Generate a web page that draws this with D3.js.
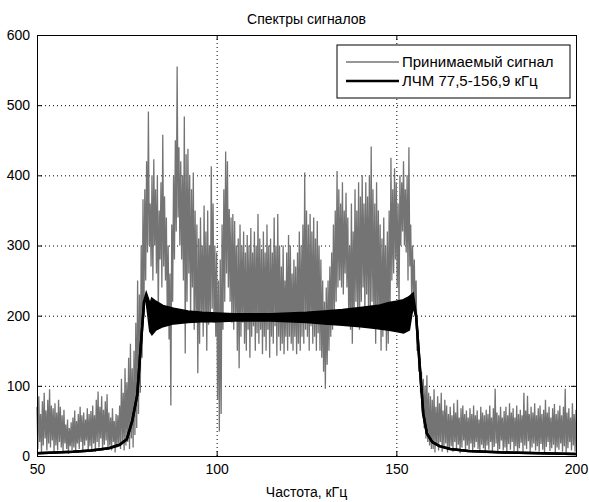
<!DOCTYPE html>
<html>
<head>
<meta charset="utf-8">
<script src="https://cdn.jsdelivr.net/npm/d3@7"></script>
<style>
  body { margin: 0; background: #fff; }
  svg { display: block; }
  text { font-family: "Liberation Sans", Arial, sans-serif; fill: #000; }
</style>
</head>
<body>
<div id="chart"></div>
<script>
// axis ticks and labels
const xTicks = [50, 100, 150, 200];
const yTicks = [0, 100, 200, 300, 400, 500, 600];
const titleText = "Спектры сигналов";
const xLabelText = "Частота, кГц";
const seriesNames = ["Принимаемый сигнал", "ЛЧМ 77,5-156,9 кГц"];

// received signal: per 0.5 kHz bin (50 ... 200 kHz), peak and trough
const grayHi = [
  70, 85, 60, 78, 90, 65, 80, 95, 72, 68,          // 50
  75, 62, 80, 70, 58, 66, 45, 52, 40, 48,          // 55
  55, 65, 50, 60, 70, 58, 62, 52, 68, 60,          // 60
  64, 72, 58, 80, 92, 70, 85, 66, 78, 88,          // 65
  62, 55, 68, 50, 60, 58, 72, 110, 90, 125,        // 70
  105, 140, 160, 125, 150, 190, 250, 230, 300, 366, // 75
  380, 420, 491, 360, 400, 423, 380, 400, 350, 390, // 80
  458, 370, 340, 300, 260, 330, 400, 450, 555, 440, // 85
  420, 400, 484, 430, 438, 400, 380, 404, 350, 330, // 90
  310, 340, 300, 357, 320, 350, 300, 413, 360, 300, // 95
  290, 250, 280, 330, 380, 434, 420, 352, 340, 345, // 100
  335, 300, 310, 330, 300, 320, 290, 315, 300, 325, // 105
  290, 320, 300, 345, 310, 295, 320, 290, 330, 300, // 110
  310, 290, 340, 300, 345, 300, 270, 300, 250, 290, // 115
  315, 300, 260, 280, 270, 290, 320, 300, 330, 404, // 120
  350, 330, 345, 320, 340, 310, 335, 300, 280, 250, // 125
  220, 240, 250, 270, 290, 330, 350, 406, 380, 360, // 130
  390, 350, 375, 340, 300, 360, 320, 380, 350, 390, // 135
  370, 400, 360, 390, 370, 400, 441, 380, 360, 390, // 140
  350, 330, 310, 340, 300, 320, 350, 425, 380, 410, // 145
  390, 360, 400, 390, 420, 380, 400, 440, 330, 300, // 150
  280, 250, 180, 140, 120, 110, 100, 115, 90, 85,   // 155
  80, 95, 70, 85, 75, 90, 65, 80, 72, 60,           // 160
  70, 58, 75, 62, 80, 55, 68, 72, 60, 65,           // 165
  55, 68, 60, 72, 58, 65, 52, 70, 62, 58,           // 170
  66, 60, 72, 55, 68, 96, 62, 58, 70, 55,           // 175
  64, 70, 58, 75, 62, 68, 55, 72, 60, 66,           // 180
  58, 90, 65, 86, 60, 70, 62, 75, 58, 68,           // 185
  72, 60, 66, 80, 62, 70, 55, 68, 74, 60,           // 190
  65, 72, 58, 70, 96, 62, 68, 55, 75, 60, 66        // 195 - 200
];
const grayLo = [
  10, 20, 5, 15, 25, 8, 18, 12, 22, 6,
  15, 8, 20, 12, 5, 18, 10, 3, 14, 8,
  12, 5, 18, 10, 20, 8, 15, 22, 6, 14,
  10, 18, 6, 20, 12, 25, 8, 16, 22, 10,
  15, 8, 20, 5, 12, 18, 10, 20, 8, 15,
  20, 10, 25, 12, 30, 40, 60, 90, 140, 200,
  250, 290, 300, 270, 250, 300, 260, 195, 280, 240,
  270, 250, 200, 166, 72, 220, 280, 320, 340, 300,
  280, 250, 146, 220, 260, 200, 240, 180, 200, 118,
  160, 200, 170, 190, 150, 187, 200, 210, 190, 170,
  80, 35, 60, 180, 220, 260, 240, 220, 190, 180,
  200, 150, 125, 170, 190, 160, 150, 180, 140, 170,
  185, 150, 175, 160, 180, 145, 170, 150, 180, 140,
  170, 160, 185, 143, 170, 150, 160, 145, 170, 150,
  170, 160, 150, 170, 145, 160, 150, 170, 160, 180,
  170, 150, 185, 160, 170, 150, 175, 150, 140, 120,
  96, 130, 150, 170, 180, 200, 220, 240, 250, 240,
  230, 260, 240, 200, 180, 160, 200, 220, 200, 180,
  220, 240, 200, 230, 210, 190, 220, 200, 160, 200,
  180, 150, 170, 180, 150, 160, 200, 250, 260, 280,
  240, 200, 300, 320, 300, 290, 250, 270, 230, 220,
  200, 150, 120, 90, 60, 40, 25, 20, 15, 10,
  10, 5, 15, 8, 20, 6, 12, 18, 5, 10,
  14, 6, 20, 9, 16, 4, 12, 22, 7, 15,
  8, 18, 5, 12, 20, 10, 6, 16, 11, 4,
  15, 9, 20, 6, 13, 18, 5, 10, 22, 8,
  12, 5, 17, 9, 20, 7, 14, 4, 11, 19,
  6, 15, 10, 21, 5, 12, 18, 8, 14, 6,
  17, 9, 4, 13, 20, 7, 11, 16, 5, 12,
  9, 18, 6, 14, 4, 11, 20, 8, 15, 6, 10
];

// LFM spectrum: ripple band, upper and lower envelope
const lfmFreq = [50, 55, 60, 65, 70, 73, 75, 76.5, 77.9, 78.9,
  79.8, 80.4, 81, 81.5, 82, 83, 85, 88, 92, 96,
  100, 105, 110, 115, 120, 125, 130, 135, 140, 145,
  148, 150, 152, 153.5, 154.6, 155.5, 156.5, 157.5, 158.5, 160,
  162, 165, 170, 180, 190, 200];
const lfmHi = [4, 5, 6, 8, 11, 16, 24, 50, 87, 158,
  220, 231, 222, 215, 224, 220, 214, 210, 206, 204,
  203, 202, 202, 202, 203, 204, 206, 208, 211, 214,
  218, 220, 222, 226, 231, 200, 130, 60, 32, 20,
  14, 10, 7, 5, 4, 3];
const lfmLo = [4, 5, 6, 8, 11, 16, 24, 50, 87, 158,
  220, 225, 200, 178, 174, 180, 185, 189, 191, 192,
  192, 193, 193, 193, 192, 191, 189, 187, 185, 182,
  180, 178, 176, 180, 215, 200, 130, 60, 32, 20,
  14, 10, 7, 5, 4, 3];

const width = 589;
const height = 502;
const margin = {top: 35, right: 13, bottom: 46, left: 37};
const binWidth = 0.5;

const x = d3.scaleLinear()
    .domain([50, 200])
    .range([margin.left, width - margin.right]);
const y = d3.scaleLinear()
    .domain([0, 600])
    .range([height - margin.bottom, margin.top]);

const svg = d3.select("#chart")
  .append("svg")
    .attr("width", width)
    .attr("height", height);

// dotted grid
svg.append("g")
    .attr("stroke", "#000")
    .attr("stroke-dasharray", "1,3")
  .call(g => g.selectAll("line.gx")
    .data(xTicks.slice(1, -1))
    .join("line")
      .attr("x1", d => x(d) + 0.5).attr("x2", d => x(d) + 0.5)
      .attr("y1", y(600)).attr("y2", y(0)))
  .call(g => g.selectAll("line.gy")
    .data(yTicks.slice(1, -1))
    .join("line")
      .attr("x1", x(50)).attr("x2", x(200))
      .attr("y1", d => y(d) + 0.5).attr("y2", d => y(d) + 0.5));

// received signal drawn as peak/trough zigzag
const grayPts = [];
grayHi.forEach((v, i) => {
  const f = 50 + i * binWidth;
  grayPts.push([f, v]);
  if (f < 200) grayPts.push([f + binWidth / 2, grayLo[i]]);
});

const plot = svg.append("g");

plot.append("path")
    .datum(grayPts)
    .attr("fill", "none")
    .attr("stroke", "#747474")
    .attr("stroke-width", 1.3)
    .attr("d", d3.line().x(d => x(d[0])).y(d => y(d[1])));

// LFM band
const lfm = lfmFreq.map((f, i) => ({f, hi: lfmHi[i], lo: lfmLo[i]}));

plot.append("path")
    .datum(lfm)
    .attr("fill", "#000")
    .attr("d", d3.area().x(d => x(d.f)).y0(d => y(d.lo)).y1(d => y(d.hi)));

plot.append("path")
    .datum(lfm)
    .attr("fill", "none")
    .attr("stroke", "#000")
    .attr("stroke-width", 2.5)
    .attr("d", d3.line().x(d => x(d.f)).y(d => y(d.hi)));

plot.append("path")
    .datum(lfm)
    .attr("fill", "none")
    .attr("stroke", "#000")
    .attr("stroke-width", 2.5)
    .attr("d", d3.line().x(d => x(d.f)).y(d => y(d.lo)));

// axes box with inward ticks
const tickLen = 5;
svg.append("g")
    .attr("transform", `translate(0,${y(0)})`)
    .call(d3.axisBottom(x).tickValues(xTicks).tickSize(-tickLen).tickPadding(tickLen + 3))
    .call(g => g.selectAll("text").attr("font-size", 14));
svg.append("g")
    .attr("transform", `translate(0,${y(600)})`)
    .call(d3.axisTop(x).tickValues(xTicks).tickSize(-tickLen).tickFormat(""));
svg.append("g")
    .attr("transform", `translate(${x(50)},0)`)
    .call(d3.axisLeft(y).tickValues(yTicks).tickSize(-tickLen).tickPadding(tickLen + 2))
    .call(g => g.selectAll("text").attr("font-size", 14));
svg.append("g")
    .attr("transform", `translate(${x(200)},0)`)
    .call(d3.axisRight(y).tickValues(yTicks).tickSize(-tickLen).tickFormat(""));

svg.selectAll(".domain").attr("stroke", "#000");
svg.selectAll(".tick line").attr("stroke", "#000");
svg.selectAll("g").filter(function() { return this.hasAttribute("font-family"); })
    .attr("font-family", null);

// title and axis label
svg.append("text")
    .attr("x", (x(50) + x(200)) / 2)
    .attr("y", 24)
    .attr("text-anchor", "middle")
    .attr("font-size", 14)
    .text(titleText);

svg.append("text")
    .attr("x", (x(50) + x(200)) / 2)
    .attr("y", 497)
    .attr("text-anchor", "middle")
    .attr("font-size", 14)
    .text(xLabelText);

// legend
const legend = svg.append("g").attr("transform", "translate(337,45)");
legend.append("rect")
    .attr("width", 233).attr("height", 53)
    .attr("fill", "#fff").attr("stroke", "#000");
const rows = legend.selectAll("g.row")
  .data(seriesNames)
  .join("g")
    .attr("transform", (d, i) => `translate(0,${17 + i * 19})`);
rows.append("line")
    .attr("x1", 9).attr("x2", 62)
    .attr("stroke", (d, i) => i ? "#000" : "#747474")
    .attr("stroke-width", (d, i) => i ? 2.5 : 1.3);
rows.append("text")
    .attr("x", 65)
    .attr("dy", "0.35em")
    .attr("font-size", 15)
    .text(d => d);
</script>
</body>
</html>
